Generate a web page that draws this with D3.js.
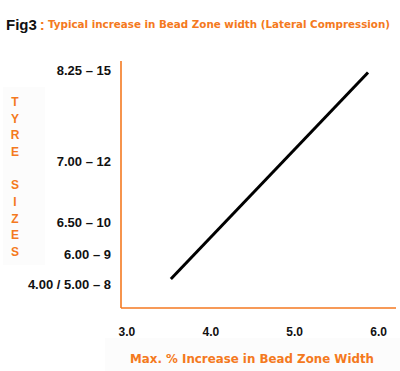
<!DOCTYPE html>
<html>
<head>
<meta charset="utf-8">
<script src="https://cdn.jsdelivr.net/npm/d3@7"></script>
<style>
  html, body { margin: 0; padding: 0; background: #ffffff; }
  svg { display: block; }
</style>
</head>
<body>
<script>
// ---- data ----
const tyreSizes = ["8.25 – 15", "7.00 – 12", "6.50 – 10", "6.00 – 9", "4.00 / 5.00 – 8"];
const tyreIncrease = [5.90, 4.87, 4.17, 3.81, 3.47];   // % increase each size sits at
const xTicks = [3.0, 4.0, 5.0, 6.0];
const lineX = [3.53, 5.88];
const lineY = [3.53, 5.88];
const titleFig = "Fig3";
const titleText = "Typical increase in Bead Zone width (Lateral Compression)";
const xTitle = "Max. % Increase in Bead Zone Width";
const yTitle = "TYRE SIZES";

// ---- layout ----
const W = 400, H = 371;
const orange = "#f47920";
const mLeft = 121, mRight = 396, mTop = 61, mBottom = 308;

const svg = d3.select("body").append("svg").attr("width", W).attr("height", H);

const x = d3.scaleLinear().domain([3.0, 6.0]).range([126.4, 378.1]);
const y = d3.scaleLinear().domain([3.2, 6.0]).range([mBottom, mTop + 1]);

// very faint background panels
svg.append("rect").attr("x", 3).attr("y", 87).attr("width", 42).attr("height", 178).attr("fill", "#fcfcfc");
svg.append("rect").attr("x", 105).attr("y", 338).attr("width", 295).attr("height", 33).attr("fill", "#fcfcfc");

// title
const t = svg.append("text").attr("x", 6).attr("y", 30)
  .style("font-family", "Liberation Sans, Arial, sans-serif");
t.append("tspan").text(titleFig).attr("font-size", 15).attr("font-weight", "bold").attr("fill", "#111");
t.append("tspan").text(":").attr("dx", 3).attr("font-size", 15).attr("font-weight", "bold").attr("fill", orange);
svg.append("text").attr("x", 48).attr("y", 27.5).text(titleText)
  .attr("font-family", "DejaVu Sans, sans-serif").attr("font-weight", "bold")
  .attr("font-size", 10.5).attr("fill", orange)
  .attr("textLength", 342).attr("lengthAdjust", "spacingAndGlyphs");

// axes lines
svg.append("line").attr("x1", mLeft).attr("x2", mLeft).attr("y1", mTop).attr("y2", mBottom)
  .attr("stroke", orange).attr("stroke-width", 1.6);
svg.append("line").attr("x1", mLeft).attr("x2", mRight).attr("y1", mBottom).attr("y2", mBottom)
  .attr("stroke", orange).attr("stroke-width", 1.6);

// x axis tick labels
const xAxis = d3.axisBottom(x).tickValues(xTicks).tickFormat(d3.format(".1f")).tickSize(0).tickPadding(0);
const gx = svg.append("g").attr("transform", `translate(0,${mBottom})`).call(xAxis);
gx.select(".domain").remove();
gx.selectAll("text").attr("dy", null).attr("y", 27.5)
  .attr("font-family", "Liberation Sans, Arial, sans-serif").attr("font-weight", "bold")
  .attr("font-size", 12).attr("fill", "#111");

// y axis labels (tyre sizes)
const gy = svg.append("g");
gy.selectAll("text").data(tyreSizes).join("text")
  .attr("x", 111).attr("y", (d, i) => y(tyreIncrease[i]))
  .attr("dy", "0.36em").attr("text-anchor", "end")
  .attr("font-family", "Liberation Sans, Arial, sans-serif").attr("font-weight", "bold")
  .attr("font-size", 13).attr("fill", "#111")
  .text(d => d);

// vertical y title
const letters = yTitle.split("");
svg.append("g").selectAll("text").data(letters).join("text")
  .attr("x", 15).attr("y", (d, i) => 101.7 + i * 16.67)
  .attr("dy", "0.36em").attr("text-anchor", "middle")
  .attr("font-family", "Liberation Sans, Arial, sans-serif").attr("font-weight", "bold")
  .attr("font-size", 12).attr("fill", orange)
  .text(d => d);

// x title
svg.append("text").attr("x", 130).attr("y", 363).text(xTitle)
  .attr("font-family", "DejaVu Sans, sans-serif").attr("font-weight", "bold")
  .attr("font-size", 12.5).attr("fill", orange)
  .attr("textLength", 244).attr("lengthAdjust", "spacingAndGlyphs");

// the line
const pts = lineX.map((v, i) => [v, lineY[i]]);
svg.append("path").datum(pts)
  .attr("d", d3.line().x(d => x(d[0])).y(d => y(d[1])))
  .attr("fill", "none").attr("stroke", "#000").attr("stroke-width", 3);
</script>
</body>
</html>
